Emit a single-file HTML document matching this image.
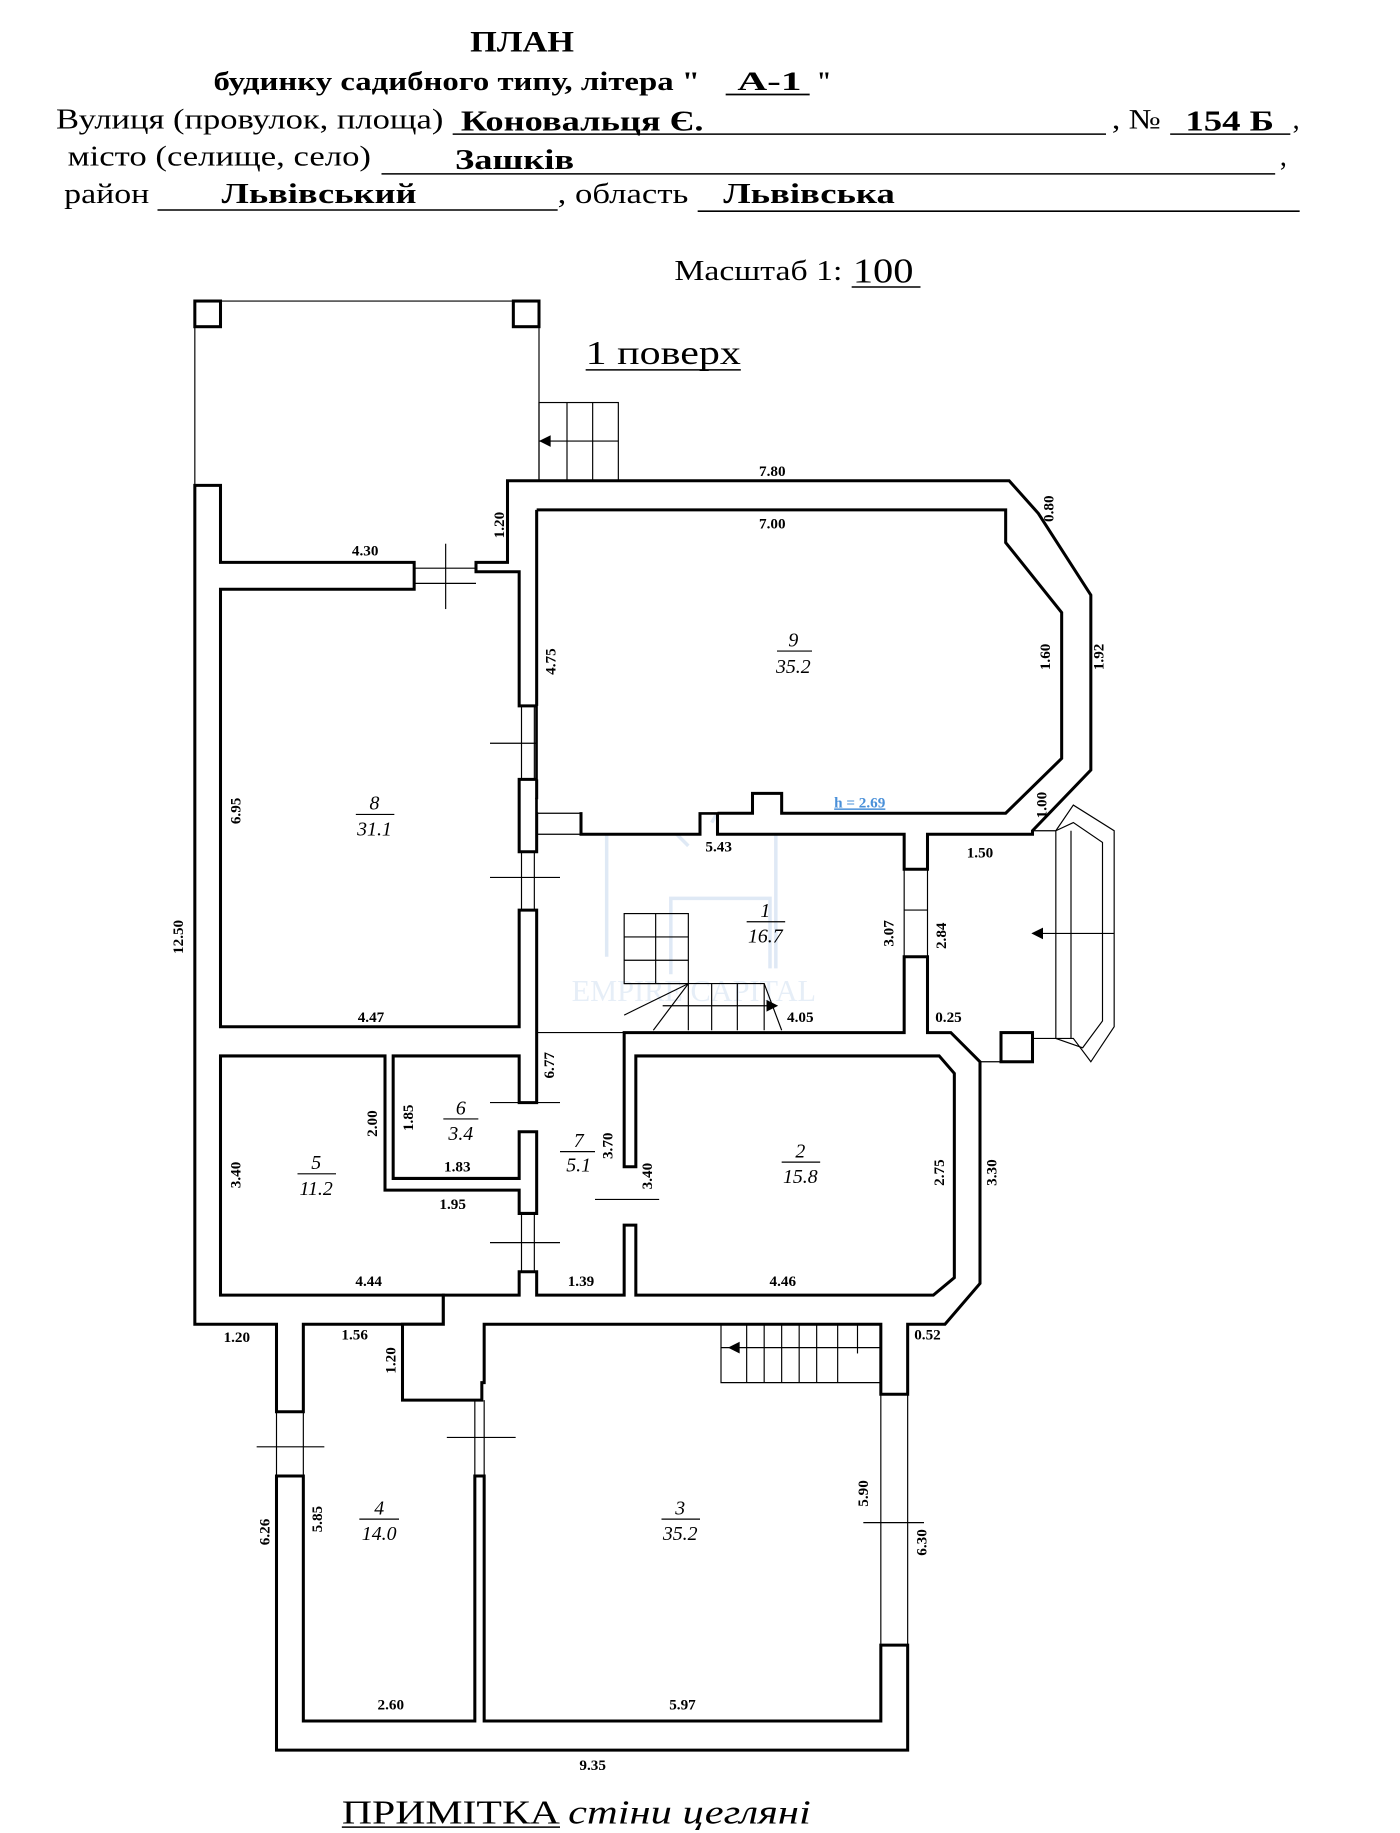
<!DOCTYPE html>
<html><head><meta charset="utf-8">
<style>
html,body{margin:0;padding:0;background:#fff;}
svg{display:block;}
text{font-family:"Liberation Serif",serif;}
.d{font-size:13px;font-weight:bold;}
.r{font-size:17px;font-style:italic;}
</style></head>
<body>
<svg width="1400" height="1833" viewBox="0 0 1200 1571" preserveAspectRatio="none" xmlns="http://www.w3.org/2000/svg">
<rect width="1200" height="1571" fill="#fff"/>
<!-- header -->
<g fill="#000">
<text x="403" y="44" font-size="25" font-weight="bold" textLength="89" lengthAdjust="spacingAndGlyphs">ПЛАН</text>
<text x="183" y="77" font-size="23" font-weight="bold" textLength="417" lengthAdjust="spacingAndGlyphs">будинку садибного типу, літера "</text>
<text x="632" y="77" font-size="23" font-weight="bold" textLength="55" lengthAdjust="spacingAndGlyphs">А-1</text>
<text x="700" y="77" font-size="23" font-weight="bold">"</text>
<line x1="622" y1="81" x2="694" y2="81" stroke="#000" stroke-width="1.5"/>
<text x="48" y="110" font-size="24" textLength="332" lengthAdjust="spacingAndGlyphs">Вулиця (провулок, площа)</text>
<text x="395" y="112" font-size="24" font-weight="bold" textLength="208" lengthAdjust="spacingAndGlyphs">Коновальця Є.</text>
<line x1="388" y1="115" x2="948" y2="115" stroke="#000" stroke-width="1.3"/>
<text x="953" y="110" font-size="24" textLength="42" lengthAdjust="spacingAndGlyphs">, №</text>
<text x="1016" y="112" font-size="24" font-weight="bold" textLength="76" lengthAdjust="spacingAndGlyphs">154 Б</text>
<line x1="1003" y1="115" x2="1106" y2="115" stroke="#000" stroke-width="1.3"/>
<text x="1108" y="110" font-size="24">,</text>
<text x="58" y="142" font-size="24" textLength="260" lengthAdjust="spacingAndGlyphs">місто (селище, село)</text>
<text x="390" y="145" font-size="24" font-weight="bold" textLength="102" lengthAdjust="spacingAndGlyphs">Зашків</text>
<line x1="327" y1="149" x2="1093" y2="149" stroke="#000" stroke-width="1.3"/>
<text x="1097" y="142" font-size="24">,</text>
<text x="55" y="174" font-size="24" textLength="73" lengthAdjust="spacingAndGlyphs">район</text>
<text x="190" y="174" font-size="24" font-weight="bold" textLength="167" lengthAdjust="spacingAndGlyphs">Львівський</text>
<line x1="135" y1="180" x2="478" y2="180" stroke="#000" stroke-width="1.3"/>
<text x="478" y="174" font-size="24" textLength="112" lengthAdjust="spacingAndGlyphs">, область</text>
<text x="620" y="174" font-size="24" font-weight="bold" textLength="147" lengthAdjust="spacingAndGlyphs">Львівська</text>
<line x1="598" y1="181" x2="1114" y2="181" stroke="#000" stroke-width="1.3"/>
<text x="578" y="240" font-size="24" textLength="144" lengthAdjust="spacingAndGlyphs">Масштаб 1:</text>
<text x="731" y="242" font-size="30" textLength="52" lengthAdjust="spacingAndGlyphs">100</text>
<line x1="730" y1="246" x2="789" y2="246" stroke="#000" stroke-width="1.3"/>
<text x="502" y="312" font-size="29" textLength="133" lengthAdjust="spacingAndGlyphs">1 поверх</text>
<line x1="502" y1="317" x2="635" y2="317" stroke="#000" stroke-width="1.3"/>
<text x="293" y="1563" font-size="29" textLength="187" lengthAdjust="spacingAndGlyphs">ПРИМІТКА</text>
<line x1="293" y1="1566" x2="480" y2="1566" stroke="#000" stroke-width="1.3"/>
<text x="487" y="1563" font-size="29" font-style="italic" textLength="208" lengthAdjust="spacingAndGlyphs">стіни цегляні</text>
</g>

<!-- watermark -->
<g fill="none" stroke="#dfe9f5" stroke-width="3">
<path d="M520 820 V655 L590 725 M610 705 L665 610 V830 M575 835 V770 H660 V830"/>
</g>
<text x="490" y="858" font-size="26" fill="#e6eef7" font-family="Liberation Sans,sans-serif">EMPIRE CAPITAL</text>

<!-- thin lines -->
<g stroke="#000" stroke-width="1" fill="none">
<line x1="189" y1="258" x2="440" y2="258"/>
<line x1="167" y1="280" x2="167" y2="416"/>
<line x1="462" y1="280" x2="462" y2="412"/>
<rect x="462" y="345" width="68" height="67"/>
<line x1="486" y1="345" x2="486" y2="412"/><line x1="508" y1="345" x2="508" y2="412"/>
<line x1="462" y1="378" x2="530" y2="378"/>
<line x1="382" y1="466" x2="382" y2="522"/><line x1="355" y1="487" x2="408" y2="487"/><line x1="355" y1="500" x2="408" y2="500"/>
<line x1="420" y1="637" x2="480" y2="637"/><line x1="447" y1="605" x2="447" y2="668"/><line x1="458" y1="605" x2="458" y2="668"/>
<line x1="420" y1="752" x2="480" y2="752"/><line x1="447" y1="730" x2="447" y2="780"/><line x1="458" y1="730" x2="458" y2="780"/>
<line x1="420" y1="945" x2="480" y2="945"/>
<line x1="420" y1="1065" x2="480" y2="1065"/><line x1="447" y1="1040" x2="447" y2="1090"/><line x1="458" y1="1040" x2="458" y2="1090"/>
<line x1="510" y1="1028" x2="565" y2="1028"/>
<line x1="460" y1="697" x2="500" y2="697"/><line x1="460" y1="715" x2="500" y2="715"/>
<line x1="615" y1="697" x2="645" y2="697"/>
<line x1="775" y1="780" x2="795" y2="780"/><line x1="775" y1="745" x2="775" y2="820"/><line x1="795" y1="745" x2="795" y2="820"/>
<line x1="460" y1="885" x2="535" y2="885"/>
<rect x="535" y="783" width="55" height="60"/>
<line x1="562" y1="783" x2="562" y2="843"/><line x1="535" y1="803" x2="590" y2="803"/><line x1="535" y1="823" x2="590" y2="823"/>
<path d="M535 843 H655 L670 883"/>
<line x1="590" y1="843" x2="535" y2="870"/><line x1="590" y1="843" x2="560" y2="883"/>
<line x1="590" y1="843" x2="590" y2="883"/><line x1="610" y1="843" x2="610" y2="883"/><line x1="632" y1="843" x2="632" y2="883"/><line x1="655" y1="843" x2="655" y2="883"/>
<path d="M568 862 H660"/>
<path d="M885 712 H905 L920 690 L955 712 V880 L935 910 L920 890 H885"/>
<path d="M905 712 L920 705 L945 722 V875 L928 898 L905 890"/>
<line x1="905" y1="712" x2="905" y2="890"/><line x1="918" y1="712" x2="918" y2="890"/>
<line x1="885" y1="800" x2="955" y2="800"/>
<line x1="840" y1="910" x2="858" y2="910"/>
<path d="M618 1135 V1185 H755"/>
<line x1="618" y1="1155" x2="755" y2="1155"/>
<g><line x1="640" y1="1135" x2="640" y2="1185"/><line x1="655" y1="1135" x2="655" y2="1185"/><line x1="670" y1="1135" x2="670" y2="1185"/><line x1="685" y1="1135" x2="685" y2="1185"/><line x1="700" y1="1135" x2="700" y2="1185"/><line x1="718" y1="1135" x2="718" y2="1185"/><line x1="735" y1="1135" x2="735" y2="1160"/></g>
<line x1="413" y1="1135" x2="360" y2="1160"/><line x1="413" y1="1135" x2="373" y2="1188"/>
<line x1="380" y1="1110" x2="380" y2="1135"/>
<line x1="237" y1="1210" x2="237" y2="1265"/><line x1="260" y1="1210" x2="260" y2="1265"/><line x1="220" y1="1240" x2="278" y2="1240"/>
<line x1="407" y1="1200" x2="407" y2="1265"/><line x1="415" y1="1200" x2="415" y2="1265"/><line x1="383" y1="1232" x2="442" y2="1232"/>
<line x1="755" y1="1195" x2="755" y2="1410"/><line x1="778" y1="1195" x2="778" y2="1410"/><line x1="740" y1="1305" x2="792" y2="1305"/>
<line x1="460" y1="1110" x2="535" y2="1110"/>
</g>
<g fill="#000">
<polygon points="462,378 472,373 472,383"/>
<polygon points="884,800 894,795 894,805"/>
<polygon points="667,862 657,857 657,867"/>
<polygon points="624,1155 634,1150 634,1160"/>
</g>

<!-- walls -->
<g fill="#fff" stroke="#000" stroke-width="2.6">
<rect x="167" y="258" width="22" height="22"/>
<rect x="440" y="258" width="22" height="22"/>
<path d="M167 416 H189 V482 H355 V505 H189 V880 H445 V780 H460 V880 V905 H460 V945 H445 V905 H337 V1010 H445 V970 H460 V1040 H445 V1020 H330 V905 H189 V1110 H380 V1135 H260 V1210 H237 V1135 H167 Z"/>
<path d="M408 482 H435 V412 H865 L890 440 L935 510 V660 L885 712 V715 H795 V745 H775 V715 H615 V697 H600 V715 H498 V685 H460 V730 H445 V668 H460 V605 H445 V490 H408 Z"/>
<path d="M775 820 H795 V885 H815 L840 910 V1100 L810 1135 H778 V1195 H755 V1135 H415 V1185 H413 V1200 H407 V1200 H345 V1135 H380 V1110 H445 V1090 H460 V1110 H535 V1050 H545 V1110 H800 L818 1095 V920 L805 905 H545 V1000 H535 V885 H775 Z"/>
<path d="M237 1265 H260 V1475 H407 V1265 H415 V1475 H755 V1410 H778 V1500 H237 Z"/>
<rect x="858" y="885" width="27" height="25"/>
</g>
<path d="M461 438 H861 V466 L909 526 V649 L861 696 H671 V679 H644 V696 H461 Z" fill="#fff"/>
<path d="M460 437 H862 V465 L910 525 V650 L862 697 H670 V680 H645 V697 H615" fill="none" stroke="#000" stroke-width="2.6"/>
<line x1="460" y1="437" x2="460" y2="605" stroke="#000" stroke-width="2.6"/>
<line x1="460" y1="668" x2="460" y2="685" stroke="#000" stroke-width="2.6"/>

<text x="715" y="692" font-size="13" font-weight="bold" fill="#4a90d9" text-decoration="underline">h = 2.69</text>

<g fill="#000" class="d" text-anchor="middle">
<text x="662" y="408">7.80</text>
<text x="662" y="453">7.00</text>
<text x="313" y="476">4.30</text>
<text x="318" y="876">4.47</text>
<text x="316" y="1102">4.44</text>
<text x="498" y="1102">1.39</text>
<text x="671" y="1102">4.46</text>
<text x="616" y="730">5.43</text>
<text x="840" y="735">1.50</text>
<text x="686" y="876">4.05</text>
<text x="813" y="876">0.25</text>
<text x="388" y="1036">1.95</text>
<text x="392" y="1004">1.83</text>
<text x="203" y="1150">1.20</text>
<text x="304" y="1148">1.56</text>
<text x="795" y="1148">0.52</text>
<text x="335" y="1465">2.60</text>
<text x="585" y="1465">5.97</text>
<text x="508" y="1517">9.35</text>
</g>
<g fill="#000" class="d" text-anchor="middle">
<text transform="translate(432,450) rotate(-90)">1.20</text>
<text transform="translate(903,436) rotate(-90)">0.80</text>
<text transform="translate(476,567) rotate(-90)">4.75</text>
<text transform="translate(900,563) rotate(-90)">1.60</text>
<text transform="translate(946,563) rotate(-90)">1.92</text>
<text transform="translate(897,690) rotate(-90)">1.00</text>
<text transform="translate(206,695) rotate(-90)">6.95</text>
<text transform="translate(157,803) rotate(-90)">12.50</text>
<text transform="translate(766,800) rotate(-90)">3.07</text>
<text transform="translate(811,802) rotate(-90)">2.84</text>
<text transform="translate(475,913) rotate(-90)">6.77</text>
<text transform="translate(323,963) rotate(-90)">2.00</text>
<text transform="translate(354,958) rotate(-90)">1.85</text>
<text transform="translate(206,1007) rotate(-90)">3.40</text>
<text transform="translate(525,982) rotate(-90)">3.70</text>
<text transform="translate(559,1008) rotate(-90)">3.40</text>
<text transform="translate(809,1005) rotate(-90)">2.75</text>
<text transform="translate(854,1005) rotate(-90)">3.30</text>
<text transform="translate(339,1166) rotate(-90)">1.20</text>
<text transform="translate(231,1313) rotate(-90)">6.26</text>
<text transform="translate(276,1302) rotate(-90)">5.85</text>
<text transform="translate(744,1280) rotate(-90)">5.90</text>
<text transform="translate(794,1322) rotate(-90)">6.30</text>
</g>
<g fill="#000" class="r" text-anchor="middle" stroke="none">
<text x="680" y="554">9</text><line x1="666" y1="558" x2="696" y2="558" stroke="#000"/><text x="680" y="577">35.2</text>
<text x="321" y="694">8</text><line x1="305" y1="698" x2="338" y2="698" stroke="#000"/><text x="321" y="716">31.1</text>
<text x="656" y="786">1</text><line x1="640" y1="790" x2="673" y2="790" stroke="#000"/><text x="656" y="808">16.7</text>
<text x="395" y="955">6</text><line x1="380" y1="959" x2="410" y2="959" stroke="#000"/><text x="395" y="977">3.4</text>
<text x="496" y="983">7</text><line x1="480" y1="987" x2="510" y2="987" stroke="#000"/><text x="496" y="1004">5.1</text>
<text x="271" y="1002">5</text><line x1="255" y1="1006" x2="288" y2="1006" stroke="#000"/><text x="271" y="1024">11.2</text>
<text x="686" y="992">2</text><line x1="670" y1="996" x2="703" y2="996" stroke="#000"/><text x="686" y="1014">15.8</text>
<text x="325" y="1298">4</text><line x1="308" y1="1302" x2="342" y2="1302" stroke="#000"/><text x="325" y="1320">14.0</text>
<text x="583" y="1298">3</text><line x1="567" y1="1302" x2="600" y2="1302" stroke="#000"/><text x="583" y="1320">35.2</text>
</g>
</svg>
</body></html>
